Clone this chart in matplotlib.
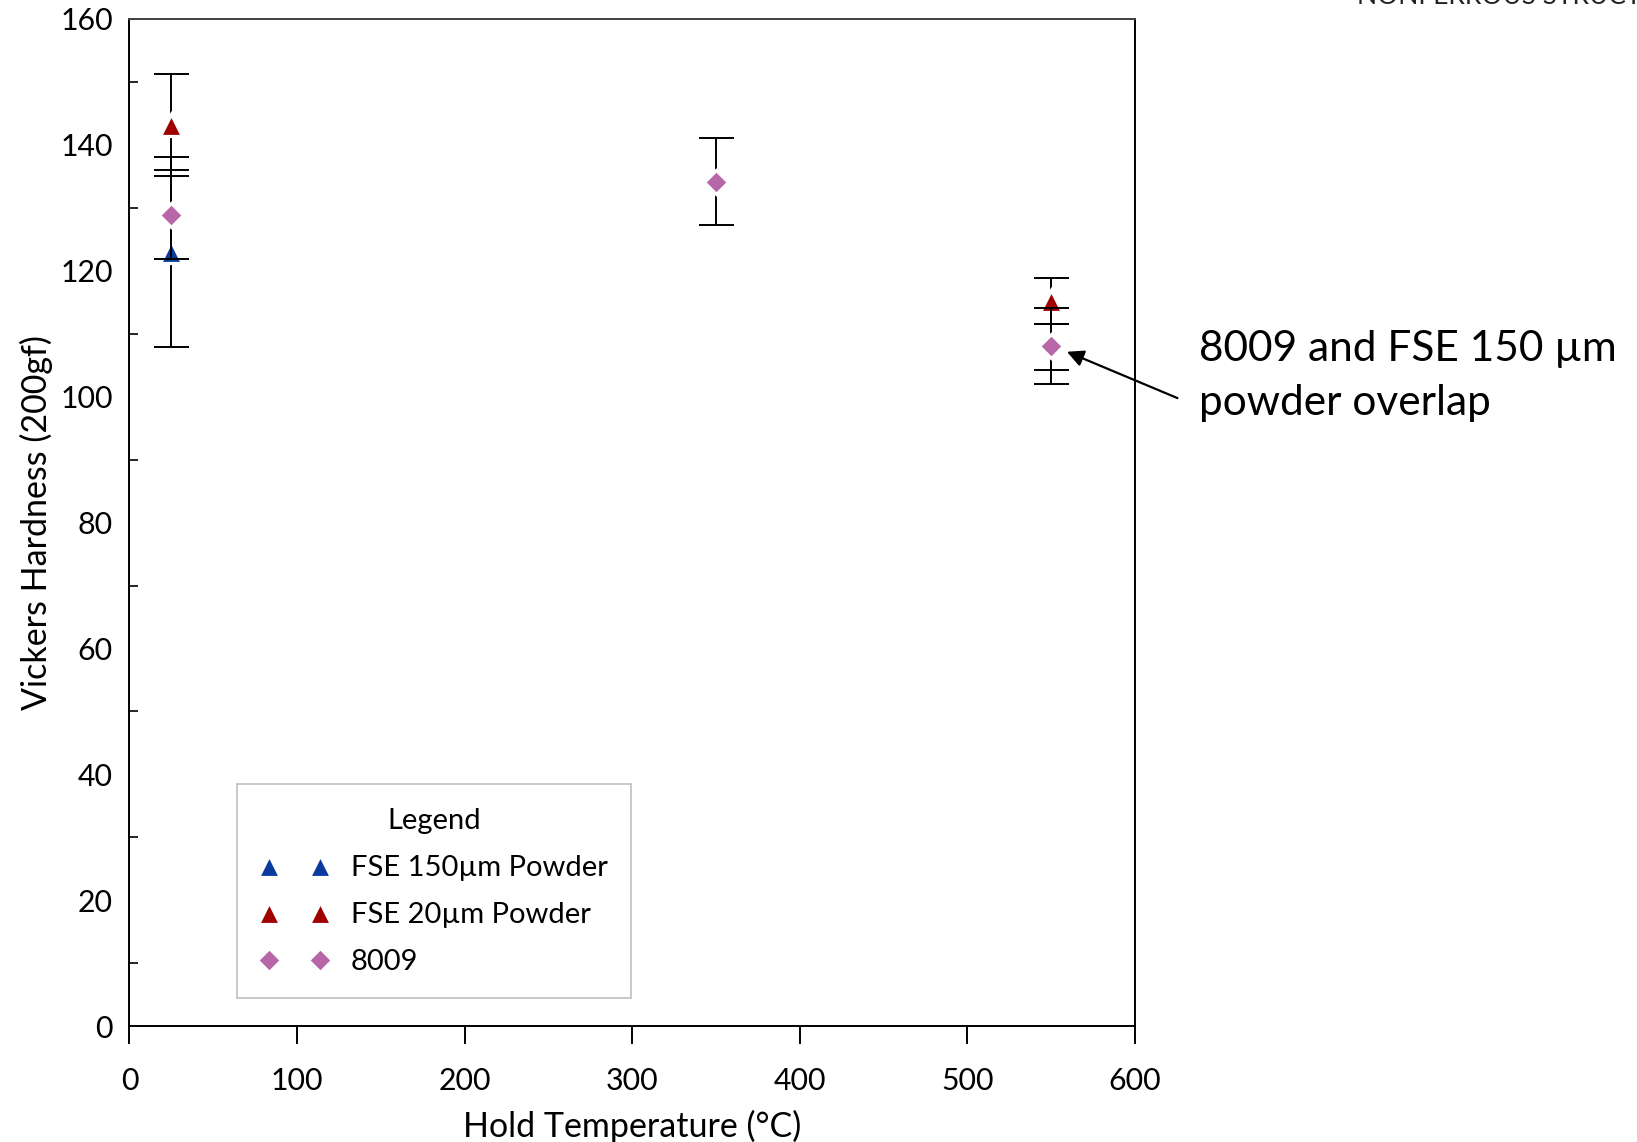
import numpy as np
import matplotlib
matplotlib.use("Agg")
import matplotlib.pyplot as plt
from matplotlib.ticker import MultipleLocator

plt.rcParams['font.family'] = ['Lato', 'DejaVu Sans']

# hold temperatures (C)
temps = [25, 350, 550]

# Vickers hardness, nan where no measurement
fse150 = [123.0, np.nan, 107.9]
fse150_err = [15.1, np.nan, 3.6]
fse20 = [143.1, np.nan, 115.2]
fse20_err = [8.1, np.nan, 3.7]
al8009 = [128.9, 134.1, 108.0]
al8009_err = [7.1, 6.9, 6.0]

labels = ['FSE 150\u00b5m Powder', 'FSE 20\u00b5m Powder', '8009']
colors = ['#0b3a9e', '#a00000', '#b767a8']
markers = ['^', '^', 'D']
msizes = [16.5, 16.5, 12.5]

fig = plt.figure(figsize=(16.37, 11.42), dpi=100)
ax = fig.add_axes([0.0791, 0.1013, 0.6141, 0.8822])

series = [(fse150, fse150_err), (fse20, fse20_err), (al8009, al8009_err)]
for i, (vals, errs) in enumerate(series):
    z = 3 + i
    ax.errorbar(temps, vals, yerr=errs, fmt='none', ecolor='black',
                elinewidth=1.4, capsize=12.6, capthick=1.4, zorder=z)
    # blue point at 550 sits under the 8009 diamond
    every = [0] if i == 0 else None
    ax.plot(temps, vals, ls='none', marker=markers[i], ms=msizes[i],
            mfc=colors[i], mec='white', mew=2.3, label=labels[i],
            markevery=every, zorder=z + 0.5)

ax.set_xlim(0, 600)
ax.set_ylim(0, 160)
ax.xaxis.set_major_locator(MultipleLocator(100))
ax.yaxis.set_major_locator(MultipleLocator(20))
ax.yaxis.set_minor_locator(MultipleLocator(10))
ax.tick_params(axis='x', which='major', direction='out', length=13,
               width=1.4, pad=16, labelsize=21.8)
ax.tick_params(axis='y', which='major', length=0, pad=12, labelsize=21.8)
ax.tick_params(axis='y', which='minor', direction='in', length=6.5, width=1.2)
for s in ax.spines.values():
    s.set_linewidth(1.4)
    s.set_color('black')
ax.spines['top'].set_color('#404040')

ax.set_xlabel('Hold Temperature (\u00b0C)', fontsize=24.5, labelpad=11)
ax.set_ylabel('Vickers Hardness (200gf)', fontsize=24.5, labelpad=5)

leg = ax.legend(loc='lower left', bbox_to_anchor=(0.107, 0.028),
                borderaxespad=0, numpoints=2, handlelength=2.35,
                handletextpad=0.74, borderpad=0.8, labelspacing=0.72,
                fontsize=21, title='Legend', title_fontsize=21,
                fancybox=False, framealpha=1)
leg.get_frame().set_edgecolor('#bfbfbf')
leg.get_frame().set_linewidth(1.2)

ax.annotate('', xy=(558, 107.3), xytext=(627, 99.6),
            arrowprops=dict(arrowstyle='-|>', color='black', lw=1.6,
                            mutation_scale=25),
            annotation_clip=False)
ax.text(638.5, 103.3, '8009 and FSE 150 \u00b5m\npowder overlap', fontsize=30.5,
        ha='left', va='center', linespacing=1.5, clip_on=False)

# remnant of slide logo cut off at the top edge
fig.text(1357 / 1637, 1 - 3.5 / 1142, 'NONFERROUS STRUCTURES', fontsize=19,
         va='baseline', ha='left', color='#222222')

fig.savefig('out.png', dpi=100)
